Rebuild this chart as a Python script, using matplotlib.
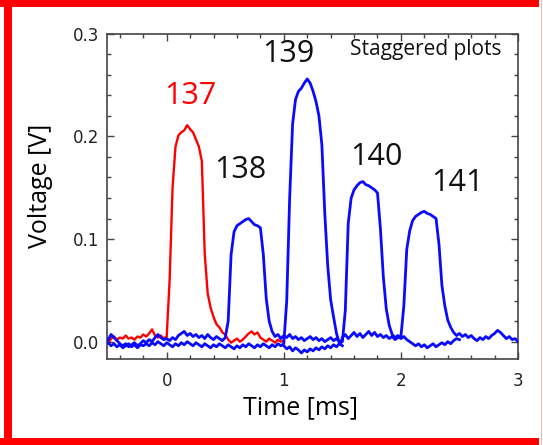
import matplotlib
matplotlib.use("Agg")
import matplotlib.pyplot as plt
import numpy as np
from matplotlib.patches import Rectangle
from matplotlib.ticker import MultipleLocator

# every trace is sampled every 25 us, starting at its own t0 (ms)
dt = 0.025

# shot 137 (red), t0 = -0.5
t0_137 = -0.5
v_137 = [-0.002, 0.003, 0.005, 0.002, 0.004, 0.003, 0.006, 0.003, 0.004, 0.002,
         0.005, 0.004, 0.007, 0.005, 0.008, 0.012, 0.006, 0.004, 0.006, 0.003,
         0.005, 0.060, 0.150, 0.190, 0.201, 0.204, 0.206, 0.211, 0.207, 0.204,
         0.197, 0.190, 0.176, 0.085, 0.047, 0.033, 0.024, 0.017, 0.014, 0.009,
         0.007, 0.002, -0.001, 0.001, 0.003, 0.000, 0.002, 0.005, 0.008, 0.010,
         0.007, 0.009, 0.004, 0.002, 0.000, 0.003, 0.001, -0.001, 0.002, 0.000,
         0.001]

# shot 138, t0 = -0.5
t0_138 = -0.5
v_138 = [0.002, 0.007, 0.004, 0.001, -0.002, -0.004, -0.002, -0.005, -0.003, -0.001,
         -0.004, -0.002, 0.001, -0.001, 0.002, 0.000, 0.004, 0.007, 0.004, 0.002,
         0.003, 0.001, 0.004, 0.002, 0.006, 0.008, 0.010, 0.006, 0.008, 0.005,
         0.007, 0.004, 0.006, 0.003, 0.007, 0.004, 0.002, 0.005, 0.003, 0.001,
         0.004, 0.020, 0.085, 0.107, 0.113, 0.115, 0.117, 0.119, 0.120, 0.117,
         0.114, 0.113, 0.111, 0.085, 0.042, 0.020, 0.010, 0.005, 0.007, 0.003,
         0.006, 0.004, 0.007, 0.003, 0.005, 0.002, 0.004, 0.001, 0.003, 0.005,
         0.002, 0.004, 0.001, 0.003, 0.000, 0.002, 0.004, 0.001, 0.003, 0.000,
         0.002]

# shot 139, t0 = -0.5
t0_139 = -0.5
v_139 = [-0.001, -0.004, -0.002, -0.005, -0.003, -0.006, -0.004, -0.002, -0.005, -0.003,
         -0.006, -0.003, -0.004, -0.002, -0.004, -0.001, -0.003, 0.000, -0.002, -0.004,
         -0.001, -0.003, -0.005, -0.002, -0.004, -0.001, -0.003, 0.000, -0.002, -0.004,
         -0.001, -0.003, -0.005, -0.002, -0.004, -0.006, -0.003, -0.005, -0.002, -0.004,
         -0.006, -0.003, -0.005, -0.007, -0.004, -0.006, -0.003, -0.005, -0.002, -0.004,
         -0.006, -0.003, -0.005, -0.002, -0.004, -0.006, -0.003, -0.005, -0.002, -0.004,
         -0.002, 0.040, 0.140, 0.212, 0.236, 0.244, 0.247, 0.252, 0.256, 0.252,
         0.244, 0.234, 0.220, 0.192, 0.125, 0.074, 0.041, 0.024, 0.008, -0.002,
         -0.004]

# shot 140, t0 = 1.0
t0_140 = 1.0
v_140 = [-0.004, -0.007, -0.005, -0.009, -0.006, -0.008, -0.011, -0.008, -0.010, -0.007,
         -0.009, -0.006, -0.008, -0.005, -0.007, -0.004, -0.006, -0.003, -0.005, -0.002,
         0.000, 0.030, 0.115, 0.140, 0.148, 0.152, 0.155, 0.156, 0.153, 0.152,
         0.150, 0.148, 0.145, 0.110, 0.063, 0.032, 0.016, 0.007, 0.004, 0.006,
         0.003, 0.005, 0.002, 0.000, -0.002, -0.004, -0.002, -0.005, -0.003, -0.006,
         -0.004, -0.002, -0.005, -0.003, -0.001, -0.003, 0.000, -0.002, 0.001, 0.003,
         0.002]

# shot 141, t0 = 1.5
t0_141 = 1.5
v_141 = [0.004, 0.007, 0.003, 0.006, 0.009, 0.005, 0.008, 0.004, 0.007, 0.010,
         0.006, 0.009, 0.005, 0.007, 0.004, 0.006, 0.003, 0.005, 0.002, 0.004,
         0.005, 0.035, 0.090, 0.108, 0.118, 0.122, 0.124, 0.126, 0.127, 0.125,
         0.124, 0.122, 0.120, 0.095, 0.055, 0.035, 0.021, 0.014, 0.009, 0.006,
         0.008, 0.005, 0.007, 0.004, 0.006, 0.003, 0.001, 0.004, 0.002, 0.005,
         0.003, 0.006, 0.008, 0.011, 0.009, 0.006, 0.003, 0.005, 0.002, 0.003,
         0.000]

labels = ["137", "138", "139", "140", "141"]
label_x = [0.20, 0.63, 1.04, 1.79, 2.48]
label_y = [0.239, 0.167, 0.280, 0.180, 0.155]
label_colors = ["#ff0000", "#111111", "#111111", "#111111", "#111111"]


def time_axis(t0, values):
    return t0 + dt * np.arange(len(values))


fig = plt.figure(figsize=(5.43, 4.45), dpi=100)
ax = fig.add_axes([0.197, 0.193, 0.757, 0.731])

blue = "#0a0aff"
for t0, v in [(t0_138, v_138), (t0_139, v_139), (t0_140, v_140), (t0_141, v_141)]:
    ax.plot(time_axis(t0, v), v, color=blue, lw=2.0, zorder=3)
ax.plot(time_axis(t0_137, v_137), v_137, color="#ff0000", lw=1.7, zorder=2)

for s, x, y, c in zip(labels, label_x, label_y, label_colors):
    ax.text(x, y, s, color=c, fontsize=22, family="Open Sans",
            ha="center", va="center")
ax.text(2.21, 0.285, "Staggered plots", fontsize=15, family="Open Sans",
        ha="center", va="center", color="#111111")

ax.set_xlim(-0.51, 3.0)
ax.set_ylim(-0.017, 0.3)
ax.xaxis.set_minor_locator(MultipleLocator(0.2))
ax.yaxis.set_minor_locator(MultipleLocator(0.02))
ax.set_xticks([0, 1, 2, 3])
ax.set_yticks([0.0, 0.1, 0.2, 0.3])
ax.set_xticklabels(["0", "1", "2", "3"])
ax.set_yticklabels(["0.0", "0.1", "0.2", "0.3"])

ax.tick_params(which="both", direction="in", top=True, right=True,
               color="#444444", width=1.0)
ax.tick_params(which="major", length=5, labelsize=12, pad=5.5)
ax.tick_params(which="minor", length=3)
ax.tick_params(axis="x", which="major", pad=9.4)
for lab in ax.get_xticklabels() + ax.get_yticklabels():
    lab.set_family("DejaVu Sans")
    lab.set_color("#222222")
for sp in ax.spines.values():
    sp.set_color("#444444")
    sp.set_linewidth(1.2)

ax.set_xlabel("Time [ms]", fontsize=18, family="Open Sans")
ax.set_ylabel("Voltage [V]", fontsize=18, family="Open Sans")
ax.xaxis.set_label_coords(0.47, -0.111)
ax.yaxis.set_label_coords(-0.131, 0.532)

# red frame round the figure
W, H = 543, 445
frame = dict(transform=fig.transFigure, color="#ff0000", lw=0, zorder=10)
fig.patches.append(Rectangle((0, (H - 7) / H), 539 / W, 7 / H, **frame))
fig.patches.append(Rectangle((4 / W, 0), 8 / W, 1, **frame))
fig.patches.append(Rectangle((0, 0), 539 / W, 7 / H, **frame))
fig.patches.append(Rectangle((540.5 / W, 0), 1.2 / W, 1, transform=fig.transFigure,
                             color="#ffb3b3", lw=0, zorder=10))

fig.savefig("out.png", dpi=100)
